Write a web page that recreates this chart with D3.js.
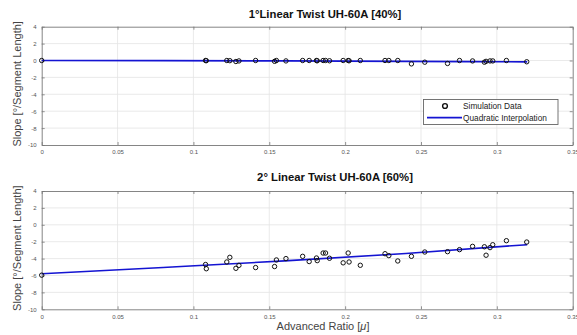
<!DOCTYPE html>
<html lang="en">
<head>
  <meta charset="UTF-8" />
  <title>Linear Twist UH-60A</title>
  <script src="https://d3js.org/d3.v7.min.js"></script>
  <style>
    body { margin: 0; background: #fff; font-family: "Liberation Sans", Arial, sans-serif; }
    svg { display: block; }
    .tick text { font-size: 6px; fill: #555; }
    .title { font-size: 11.3px; font-weight: bold; fill: #111; text-anchor: middle; }
    .ylab, .xlab { font-size: 11px; fill: #444; text-anchor: middle; }
    .leg { font-size: 8.3px; fill: #222; }
  </style>
</head>
<body>
<svg width="577" height="335"></svg>
<script>
  // advance ratio of each simulation case (same for both panels)
  const mu = [0, 0.108, 0.1085, 0.122, 0.124, 0.128, 0.130, 0.141, 0.1535, 0.1547,
    0.161, 0.172, 0.1763, 0.1811, 0.1816, 0.1855, 0.1871, 0.1897, 0.1987, 0.202,
    0.2026, 0.210, 0.2263, 0.2288, 0.2347, 0.2437, 0.2525, 0.2675, 0.2754, 0.284,
    0.2918, 0.2929, 0.2955, 0.2973, 0.3063, 0.3197];

  const slope40 = [0, 0, -0.02, 0, -0.02, -0.12, -0.05, 0, -0.1, 0,
    -0.05, 0, 0, 0, -0.03, 0, 0, -0.03, 0, 0,
    -0.03, 0, 0, 0, 0, -0.4, -0.2, -0.35, 0, -0.05,
    -0.2, -0.1, -0.05, -0.05, 0, -0.15];

  const slope60 = [-5.96, -4.7, -5.2, -4.4, -3.85, -5.15, -4.8, -5.06, -4.94, -4.16,
    -4.0, -3.73, -4.35, -3.93, -4.24, -3.34, -3.34, -3.96, -4.5, -3.34,
    -4.4, -4.79, -3.42, -3.65, -4.28, -3.73, -3.22, -3.18, -2.94, -2.55,
    -2.6, -3.6, -2.7, -2.36, -1.88, -2.04];

  // quadratic interpolation curves
  const fitMu = [0, 0.08, 0.16, 0.24, 0.32];
  const fit40 = [0, -0.02, -0.05, -0.1, -0.16];
  const fit60 = [-5.8, -5.05, -4.27, -3.4, -2.35];

  const xTicks = [0, 0.05, 0.1, 0.15, 0.2, 0.25, 0.3, 0.35];
  const yTicks = [4, 2, 0, -2, -4, -6, -8, -10];

  const panels = [
    { title: "1°Linear Twist UH-60A [40%]", y: slope40, fit: fit40, top: 26.7, titleX: 325, titleY: 18, legend: true },
    { title: "2° Linear Twist UH-60A [60%]", y: slope60, fit: fit60, top: 191, titleX: 335, titleY: 181, legend: false }
  ];

  const svg = d3.select("svg");
  const left = 41.7, right = 572.7, ph = 118.3;
  const x = d3.scaleLinear().domain([0, 0.35]).range([left, right]);

  panels.forEach((p, i) => {
    const y = d3.scaleLinear().domain([-10, 4]).range([p.top + ph, p.top]);
    const g = svg.append("g");

    // grid
    g.append("g").selectAll("line").data(xTicks.slice(1, -1)).join("line")
      .attr("x1", d => x(d)).attr("x2", d => x(d))
      .attr("y1", p.top).attr("y2", p.top + ph)
      .attr("stroke", "#e4e4e4").attr("stroke-width", 0.8);
    g.append("g").selectAll("line").data(yTicks.slice(1, -1)).join("line")
      .attr("y1", d => y(d)).attr("y2", d => y(d))
      .attr("x1", left).attr("x2", right)
      .attr("stroke", "#e4e4e4").attr("stroke-width", 0.8);

    // axes with inner ticks (box on)
    const ax = [
      [d3.axisBottom(x).tickValues(xTicks).tickSizeInner(-3).tickSizeOuter(0).tickPadding(5).tickFormat(d => String(d)), `translate(0,${p.top + ph})`],
      [d3.axisTop(x).tickValues(xTicks).tickSizeInner(-3).tickSizeOuter(0).tickFormat(""), `translate(0,${p.top})`],
      [d3.axisLeft(y).tickValues(yTicks).tickSizeInner(-3).tickSizeOuter(0).tickPadding(5).tickFormat(d => String(d)), `translate(${left},0)`],
      [d3.axisRight(y).tickValues(yTicks).tickSizeInner(-3).tickSizeOuter(0).tickFormat(""), `translate(${right},0)`]
    ];
    ax.forEach(([a, t]) => {
      const s = g.append("g").attr("transform", t).call(a);
      s.select(".domain").attr("stroke", "#777").attr("stroke-width", 0.9);
      s.selectAll(".tick line").attr("stroke", "#777").attr("stroke-width", 0.8);
    });

    // fit line
    g.append("path")
      .datum(fitMu.map((m, k) => [m, p.fit[k]]))
      .attr("fill", "none").attr("stroke", "#1414d2").attr("stroke-width", 1.6)
      .attr("d", d3.line().curve(d3.curveMonotoneX).x(d => x(d[0])).y(d => y(d[1])));

    // simulation points
    g.append("g").selectAll("circle").data(mu.map((m, k) => [m, p.y[k]])).join("circle")
      .attr("cx", d => x(d[0])).attr("cy", d => y(d[1])).attr("r", 2.2)
      .attr("fill", "none").attr("stroke", "#111").attr("stroke-width", 1);

    g.append("text").attr("class", "title")
      .attr("x", p.titleX).attr("y", p.titleY).text(p.title);

    g.append("text").attr("class", "ylab")
      .attr("transform", `translate(21,${p.top + ph / 2 - 2}) rotate(-90)`)
      .text("Slope [°/Segment Length]");

    if (p.legend) {
      const lg = g.append("g");
      lg.append("rect").attr("x", 423.5).attr("y", 99.5).attr("width", 134.5).attr("height", 25)
        .attr("fill", "#fff").attr("stroke", "#666").attr("stroke-width", 0.9);
      lg.append("circle").attr("cx", 445).attr("cy", 106).attr("r", 2.4)
        .attr("fill", "none").attr("stroke", "#111").attr("stroke-width", 1.4);
      lg.append("line").attr("x1", 427).attr("x2", 462).attr("y1", 117.6).attr("y2", 117.6)
        .attr("stroke", "#1414d2").attr("stroke-width", 1.6);
      lg.append("text").attr("class", "leg").attr("x", 463).attr("y", 109).text("Simulation Data");
      lg.append("text").attr("class", "leg").attr("x", 463).attr("y", 120.5).text("Quadratic Interpolation");
    }
  });

  const xl = svg.append("text").attr("class", "xlab").attr("x", 323).attr("y", 330);
  xl.append("tspan").text("Advanced Ratio [");
  xl.append("tspan").attr("font-style", "italic").text("μ");
  xl.append("tspan").text("]");
</script>
</body>
</html>
